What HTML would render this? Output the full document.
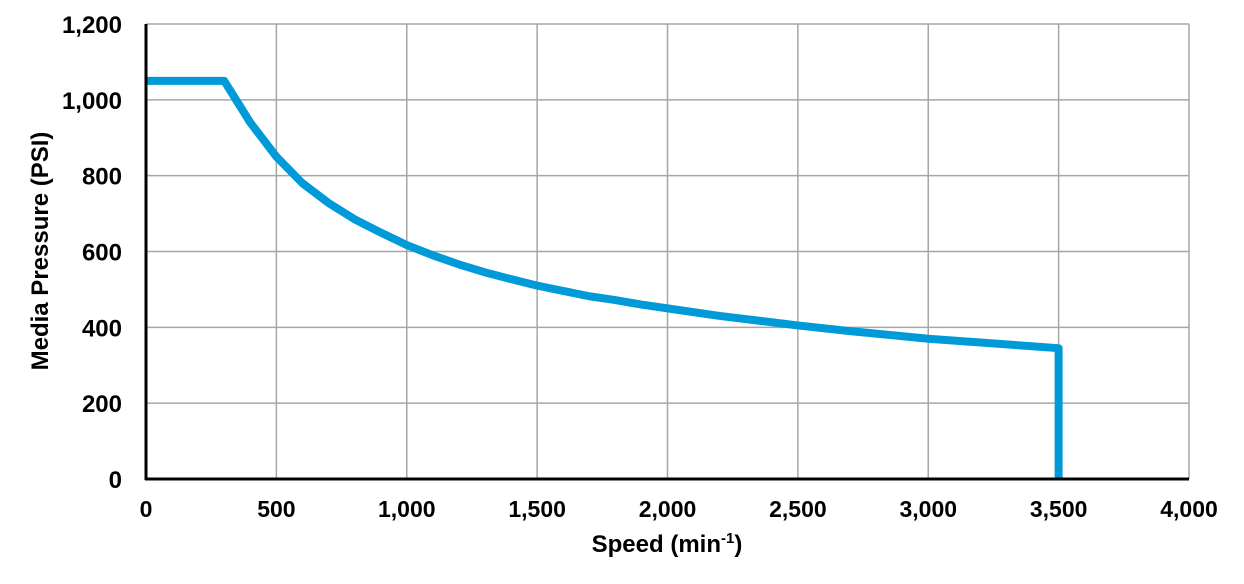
<!DOCTYPE html>
<html><head><meta charset="utf-8"><style>
html,body{margin:0;padding:0;background:#fff;width:1244px;height:584px;overflow:hidden}
text{font-family:"Liberation Sans",Arial,sans-serif;font-weight:bold;fill:#000}
</style></head><body>
<svg id="chart" width="1244" height="584" xmlns="http://www.w3.org/2000/svg">
<g id="grid"></g>
<g id="ticks"></g>
<polyline id="series" fill="none" stroke="#009ad8" stroke-width="8" stroke-linejoin="round"/>
<line x1="146" y1="24" x2="146" y2="480" stroke="#000" stroke-width="3"/>
<line x1="145" y1="479" x2="1189" y2="479" stroke="#000" stroke-width="3"/>
<text x="667" y="552" text-anchor="middle" font-size="24">Speed (min<tspan font-size="15" dy="-9">-1</tspan><tspan dy="9">)</tspan></text>
<text transform="translate(48,251) rotate(-90)" text-anchor="middle" font-size="24">Media Pressure (PSI)</text>
</svg>
<script>
const xTicks=[0,500,1000,1500,2000,2500,3000,3500,4000];
const yTicks=[0,200,400,600,800,1000,1200];
const speeds=[0,300,400,500,600,700,800,900,1000,1100,1200,1300,1400,1500,1600,1700,1800,1900,2000,2200,2500,2700,3000,3500,3500];
const pressures=[1050,1050,940,850,780,728,685,650,617,590,566,545,527,510,496,482,472,460,450,430,405,390,370,345,0];
const X=v=>146+v/4000*(1189-146);
const Y=v=>479-v/1200*(479-24);
const ns="http://www.w3.org/2000/svg";
const grid=document.getElementById('grid'),tk=document.getElementById('ticks');
const fmt=v=>v.toLocaleString('en-US');
xTicks.forEach(v=>{
  const l=document.createElementNS(ns,'line');
  l.setAttribute('x1',X(v));l.setAttribute('x2',X(v));l.setAttribute('y1',24);l.setAttribute('y2',479);
  l.setAttribute('stroke','#a6a6a6');l.setAttribute('stroke-width','1.5');
  
  
  grid.appendChild(l);
  const t=document.createElementNS(ns,'text');
  t.setAttribute('x',X(v));t.setAttribute('y',517);t.setAttribute('text-anchor','middle');t.setAttribute('font-size','23');
  t.textContent=fmt(v);
  
  
  tk.appendChild(t);
});
yTicks.forEach(v=>{
  const l=document.createElementNS(ns,'line');
  l.setAttribute('x1',146);l.setAttribute('x2',1189);l.setAttribute('y1',Y(v));l.setAttribute('y2',Y(v));
  l.setAttribute('stroke','#a6a6a6');l.setAttribute('stroke-width','1.5');
  
  
  grid.appendChild(l);
  const t=document.createElementNS(ns,'text');
  t.setAttribute('x',122);t.setAttribute('y',Y(v)+9);t.setAttribute('text-anchor','end');t.setAttribute('font-size','24');
  t.textContent=fmt(v);
  
  
  tk.appendChild(t);
});
document.getElementById('series').setAttribute('points',speeds.map((s,i)=>X(s)+','+Y(pressures[i])).join(' '));
</script>
</body></html>
